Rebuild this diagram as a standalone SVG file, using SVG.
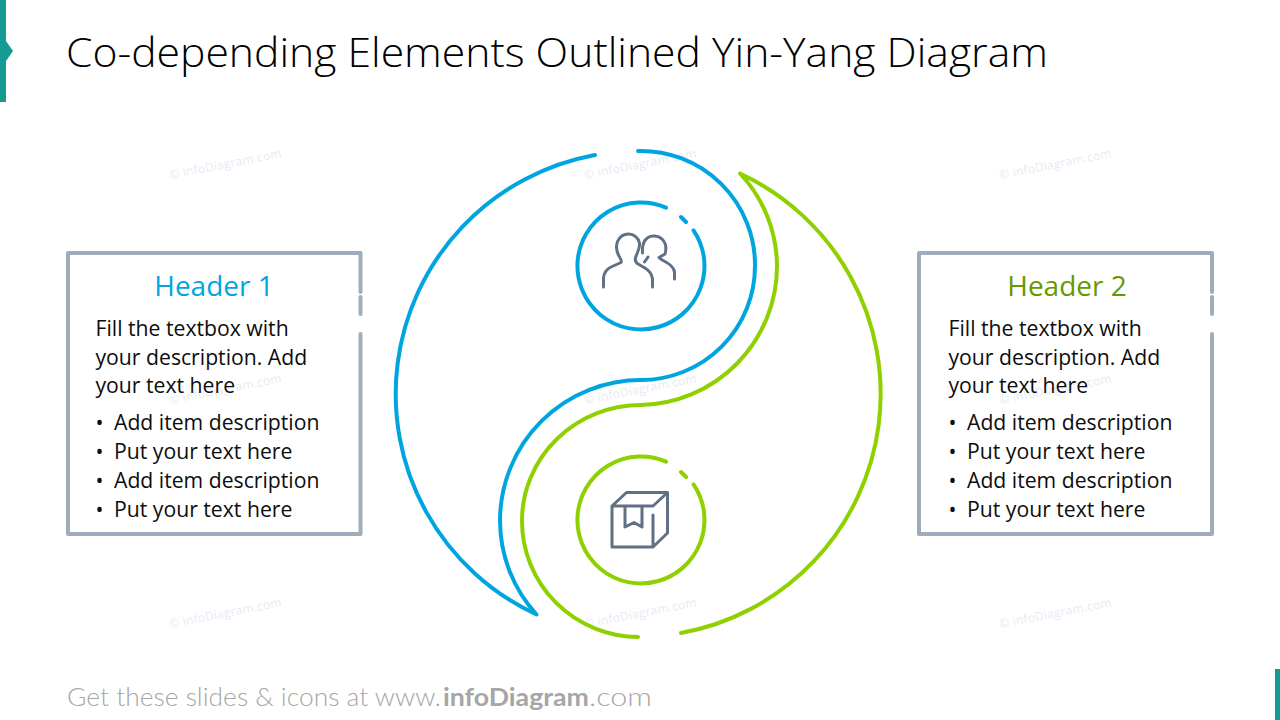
<svg xmlns="http://www.w3.org/2000/svg" width="1280" height="720" viewBox="0 0 1280 720">
<defs>
<style>
.wm{font:12px "Open Sans",sans-serif;fill:#e6ebf5}
.t{font-family:"Open Sans","Noto Sans",sans-serif;font-size:21.2px;fill:#0d0d0d}
.h{font-family:"Open Sans","Noto Sans",sans-serif;font-size:28px;text-anchor:middle}
.f{font-family:Lato,"Open Sans",sans-serif;font-size:25px;fill:#a6a6a6}
.bx{fill:none;stroke:#9eadbd;stroke-width:4;stroke-linecap:round;stroke-linejoin:round}
.b{fill:none;stroke:#00a5e0;stroke-width:4;stroke-linecap:round;stroke-linejoin:round}
.g{fill:none;stroke:#8fd000;stroke-width:4;stroke-linecap:round;stroke-linejoin:round}
.i{fill:none;stroke:#5f7185;stroke-width:3;stroke-linecap:round;stroke-linejoin:round}
</style>
</defs>
<rect width="1280" height="720" fill="#fff"/>
<g id="watermarks">
<text class="wm" transform="translate(170 179) rotate(-11)" textLength="114">© infoDiagram.com</text>
<text class="wm" transform="translate(585 179) rotate(-11)" textLength="114">© infoDiagram.com</text>
<text class="wm" transform="translate(1000 179) rotate(-11)" textLength="114">© infoDiagram.com</text>
<text class="wm" transform="translate(170 404) rotate(-11)" textLength="114">© infoDiagram.com</text>
<text class="wm" transform="translate(585 404) rotate(-11)" textLength="114">© infoDiagram.com</text>
<text class="wm" transform="translate(1000 404) rotate(-11)" textLength="114">© infoDiagram.com</text>
<text class="wm" transform="translate(170 628) rotate(-11)" textLength="114">© infoDiagram.com</text>
<text class="wm" transform="translate(585 628) rotate(-11)" textLength="114">© infoDiagram.com</text>
<text class="wm" transform="translate(1000 628) rotate(-11)" textLength="114">© infoDiagram.com</text>
</g>
<g id="accents" fill="#169b94">
<polygon points="0,0 6,0 6,41 13,51 6,61 6,102 0,102"/>
<rect x="1275" y="669" width="5" height="51"/>
</g>
<text id="title" x="66" y="67" font-family="'Open Sans','Noto Sans',sans-serif" font-size="40" font-weight="300" fill="#000" textLength="982" lengthAdjust="spacingAndGlyphs">Co-depending Elements Outlined Yin-Yang Diagram</text>
<g id="connectors">
<path class="b" d="M595 155A243 243 0 0 0 536.500 614.500A140 140 0 0 1 500 520A141 141 0 0 1 641 380A114 114 0 0 0 755 266A114 114 0 0 0 638 151"/>
<path class="g" d="M681 633A243 243 0 0 0 740 173.500A136 136 0 0 1 777 266A139 139 0 0 1 641 405A119 116 0 0 0 522 521A117 116 0 0 0 638 637"/>
</g>
<g id="node-people">
<path class="b" d="M693.500 230.300A63.500 63.500 0 1 1 666 207.600M681 217L686 222"/>
<path class="i" d="M603.500 287V278C604 272 607 269 611 267L621 262.500C622 261 621 259 619 256C616 251 616 246 617.500 241.500C620 236 624 234 628.500 234C634 234 638.500 238 639.500 243C640 248 638 251 636.500 255C634.500 259 635 262 638 264L645 268C650 271 652 275 652.500 279V287"/>
<path class="i" d="M642.500 253C642 245 644 240 648 237.500C652 235 658 235.500 662 239C666 243 666.500 249 665 254L659 257.500C660 259 662 260 664 261C670 264 674 268 674.500 272V279M648 257L644.500 262"/>
</g>
<g id="node-box">
<path class="g" d="M693.500 484.300A63.500 63.500 0 1 1 666 461.600M681 472L686 477"/>
<path class="i" d="M653 515V547H612V506H653L667.500 492.500V533L653 547M612 506L626.500 492.500H667.500M625 506V527L634 522.500L642 527V506"/>
</g>
<g id="node-header1">
<path class="bx" d="M360.500 292V253H68V534H360.500V334M360.500 297V314"/>
<text class="h" x="214" y="296" fill="#00a5e0">Header 1</text>
<text class="t" x="95.500" y="335.500">Fill the textbox with</text>
<text class="t" x="95.500" y="364.500">your description. Add</text>
<text class="t" x="95.500" y="392.500">your text here</text>
<text class="t" x="95.500" y="429.500">•</text><text class="t" x="114" y="429.500">Add item description</text>
<text class="t" x="95.500" y="458.500">•</text><text class="t" x="114" y="458.500">Put your text here</text>
<text class="t" x="95.500" y="487.500">•</text><text class="t" x="114" y="487.500">Add item description</text>
<text class="t" x="95.500" y="516.500">•</text><text class="t" x="114" y="516.500">Put your text here</text>
</g>
<g id="node-header2">
<path class="bx" d="M1212 292V253H919V534H1212V334M1212 297V314"/>
<text class="h" x="1067" y="296" fill="#669900">Header 2</text>
<text class="t" x="948.500" y="335.500">Fill the textbox with</text>
<text class="t" x="948.500" y="364.500">your description. Add</text>
<text class="t" x="948.500" y="392.500">your text here</text>
<text class="t" x="948.500" y="429.500">•</text><text class="t" x="967" y="429.500">Add item description</text>
<text class="t" x="948.500" y="458.500">•</text><text class="t" x="967" y="458.500">Put your text here</text>
<text class="t" x="948.500" y="487.500">•</text><text class="t" x="967" y="487.500">Add item description</text>
<text class="t" x="948.500" y="516.500">•</text><text class="t" x="967" y="516.500">Put your text here</text>
</g>
<g id="footer">
<text class="f" x="67" y="706" font-weight="300" textLength="374" lengthAdjust="spacingAndGlyphs">Get these slides &amp; icons at www.</text>
<text class="f" x="443" y="706" font-weight="700" textLength="146" lengthAdjust="spacingAndGlyphs">infoDiagram</text>
<text class="f" x="589" y="706" font-weight="300" textLength="63" lengthAdjust="spacingAndGlyphs">.com</text>
</g>
</svg>
